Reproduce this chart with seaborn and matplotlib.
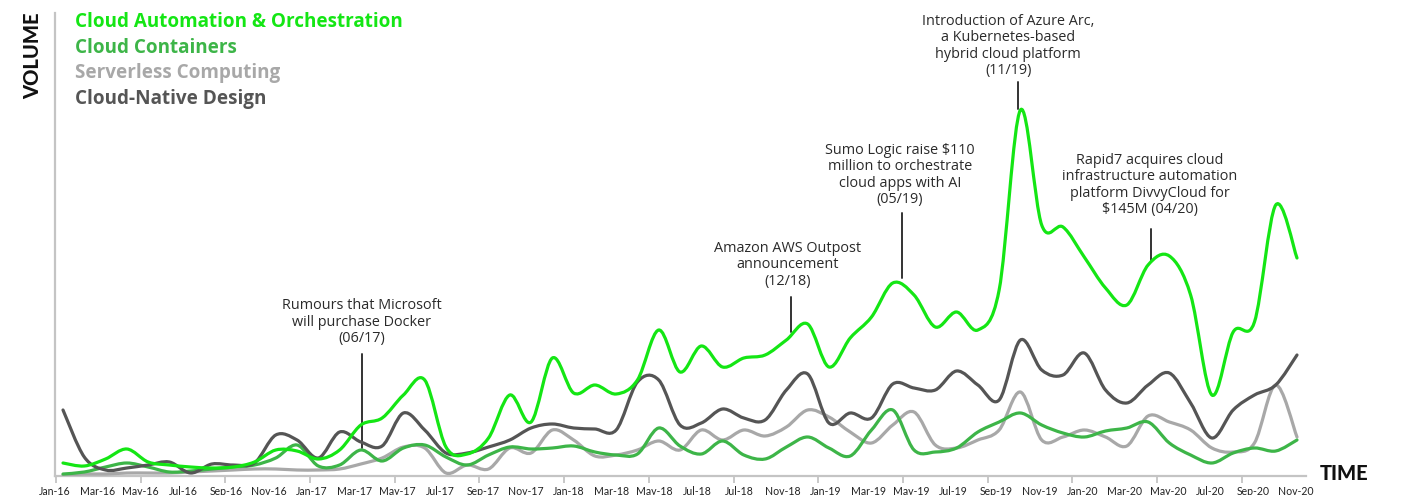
import numpy as np
import pandas as pd
import matplotlib
matplotlib.use("Agg")
import matplotlib.pyplot as plt
from matplotlib.path import Path
from matplotlib.patches import PathPatch
import seaborn as sns

# ---------------- data (monthly, Jan-16 .. Nov-20) ----------------
months = pd.date_range("2016-01-01", "2020-11-01", freq="MS")

cloud_automation = [13, 10, 17, 27, 14, 11, 9, 8, 9, 14,
                    26, 25, 17, 26, 51, 58, 81, 96, 29, 22,
                    38, 81, 54, 118, 83, 91, 82, 96, 146, 104,
                    130, 109, 118, 121, 136, 152, 109, 138, 159, 193,
                    181, 149, 164, 146, 186, 366, 251, 249, 219, 188,
                    171, 211, 220, 181, 81, 144, 154, 271, 218]
cloud_containers = [2, 4, 9, 13, 9, 4, 5, 7, 9, 11,
                    18, 31, 10, 11, 26, 15, 28, 31, 19, 11,
                    21, 29, 27, 28, 30, 24, 21, 22, 48, 30,
                    22, 35, 21, 17, 29, 39, 28, 20, 46, 66,
                    26, 24, 28, 44, 54, 63, 51, 43, 39, 45,
                    48, 54, 33, 21, 13, 23, 28, 25, 36]
serverless = [1, 2, 2, 3, 3, 3, 4, 5, 6, 7,
              7, 6, 6, 7, 12, 18, 29, 28, 3, 11,
              7, 28, 23, 46, 36, 20, 21, 26, 35, 26,
              46, 36, 46, 40, 49, 66, 59, 44, 33, 51,
              64, 31, 28, 36, 46, 84, 36, 39, 46, 39,
              30, 60, 54, 46, 28, 24, 33, 91, 39]
cloud_native = [66, 19, 6, 8, 11, 14, 3, 12, 11, 13,
                41, 36, 18, 44, 34, 30, 63, 46, 23, 23,
                29, 36, 48, 52, 48, 47, 46, 94, 96, 51,
                53, 67, 58, 56, 86, 102, 53, 63, 58, 92,
                88, 86, 105, 91, 76, 136, 106, 101, 123, 86,
                73, 91, 103, 73, 38, 66, 81, 91, 121]

series_names = ["Cloud Automation & Orchestration", "Cloud Containers",
                "Serverless Computing", "Cloud-Native Design"]
series_values = [cloud_automation, cloud_containers, serverless, cloud_native]

tick_labels = ["Jan-16", "Mar-16", "May-16", "Jul-16", "Sep-16", "Nov-16",
               "Jan-17", "Mar-17", "May-17", "Jul-17", "Sep-17", "Nov-17",
               "Jan-18", "Mar-18", "May-18", "Jul-18", "Jul-18", "Nov-18",
               "Jan-19", "Mar-19", "May-19", "Jul-19", "Sep-19", "Nov-19",
               "Jan-20", "Mar-20", "May-20", "Jul-20", "Sep-20", "Nov-20"]

annotations = [
    ("Rumours that Microsoft\nwill purchase Docker\n(06/17)"),
    ("Amazon AWS Outpost\nannouncement\n(12/18)"),
    ("Sumo Logic raise $110\nmillion to orchestrate\ncloud apps with AI\n(05/19)"),
    ("Introduction of Azure Arc,\na Kubernetes-based\nhybrid cloud platform\n(11/19)"),
    ("Rapid7 acquires cloud\ninfrastructure automation\nplatform DivvyCloud for\n$145M (04/20)"),
]

# ---------------- style ----------------
colors = {"Cloud Automation & Orchestration": "#14e614",
          "Cloud Containers": "#3db548",
          "Serverless Computing": "#a8a8a8",
          "Cloud-Native Design": "#555555"}

sns.set_theme(style="white")
plt.rcParams["font.family"] = ["Lato", "DejaVu Sans"]

W, H = 1407, 495
fig = plt.figure(figsize=(W / 100, H / 100), dpi=100)
ax = fig.add_axes([55 / W, (H - 476) / H, (1306 - 55) / W, (476 - 13) / H])

x = np.arange(len(months), dtype=float)
df = pd.DataFrame({"month": x})
for name, vals in zip(series_names, series_values):
    df[name] = vals


def smooth_path(xs, ys):
    pts = np.column_stack([xs, ys]).astype(float)
    n = len(pts)
    verts = [pts[0]]
    codes = [Path.MOVETO]
    for i in range(n - 1):
        p0 = pts[i - 1] if i > 0 else pts[i]
        p1, p2 = pts[i], pts[i + 1]
        p3 = pts[i + 2] if i + 2 < n else pts[i + 1]
        verts += [p1 + (p2 - p0) / 6, p2 - (p3 - p1) / 6, p2]
        codes += [Path.CURVE4] * 3
    return Path(verts, codes)


draw_order = ["Serverless Computing", "Cloud Containers",
              "Cloud-Native Design", "Cloud Automation & Orchestration"]
for z, name in enumerate(draw_order):
    patch = PathPatch(smooth_path(df["month"], df[name]), fill=False,
                      edgecolor=colors[name], lw=2.3, zorder=3 + z,
                      capstyle="round", joinstyle="round")
    ax.add_patch(patch)

px_per_month = (1297 - 63) / 58
ax.set_xlim((55 - 63) / px_per_month, (1306 - 63) / px_per_month)
ax.set_ylim(0, 463)

# axes styling
sns.despine(ax=ax)
for s in ["left", "bottom"]:
    ax.spines[s].set_color("#c4c4c4")
    ax.spines[s].set_linewidth(1.6)
ax.set_yticks([])

label_pos = np.linspace(-0.376, 57.96, len(tick_labels))
ax.set_xticks(label_pos)
ax.set_xticklabels(tick_labels, fontsize=7.6, color="#222222")
ax.tick_params(axis="x", which="major", length=0, pad=7)
ax.set_xticks(np.linspace(-0.33, 55.4, 15), minor=True)
ax.tick_params(axis="x", which="minor", length=5, width=1.3, color="#c4c4c4",
               bottom=True)

# annotations: (text_x, text_y, line_x, line_y0, line_y1)
ann_pos = [
    (14.05, 154, 14.05, 28, 122),
    (34.07, 211, 34.22, 144, 179),
    (39.34, 301, 39.43, 198, 263),
    (44.42, 430, 44.89, 367, 394),
    (51.09, 291, 51.14, 214, 247),
]
for txt, (tx, ty, lx, ly0, ly1) in zip(annotations, ann_pos):
    ax.text(tx, ty, txt, ha="center", va="center", fontsize=10.4,
            family=["Open Sans", "DejaVu Sans"],
            color="#2a2a2a", linespacing=1.15, zorder=10, clip_on=False)
    ax.plot([lx, lx], [ly0, ly1], color="#333333", lw=1.4, zorder=2)

# legend as coloured text
leg_y = [22, 48, 73, 99]
for name, yy in zip(series_names, leg_y):
    fig.text(75 / W, 1 - yy / H, name, ha="left", va="center",
             fontsize=13.6, fontweight="bold",
             family=["Open Sans", "DejaVu Sans"], color=colors[name])

fig.text(33 / W, 1 - 56 / H, "VOLUME", rotation=90, ha="center",
         va="center", fontsize=14.5, fontweight="black", color="#111111")
fig.text(1344 / W, 1 - 473 / H, "TIME", ha="center", va="center",
         fontsize=14.5, fontweight="black", color="#111111")

fig.savefig("out.png", dpi=100)
